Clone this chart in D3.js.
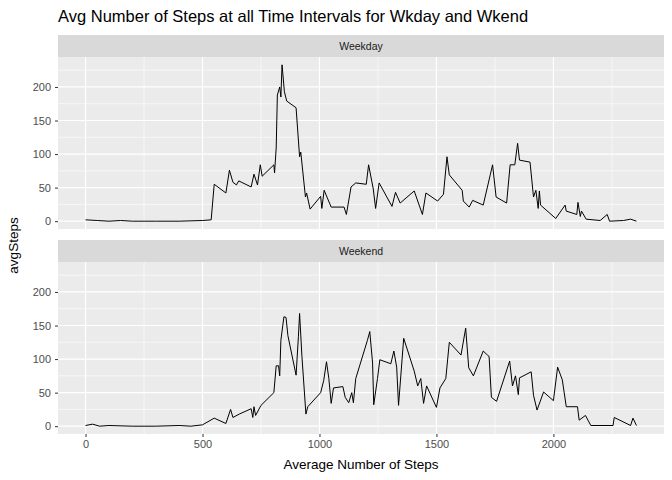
<!DOCTYPE html>
<html><head><meta charset="utf-8">
<script src="https://cdn.jsdelivr.net/npm/d3@7"></script>
<style>body{margin:0;background:#fff}text{font-family:"Liberation Sans",Arial,sans-serif}</style>
</head><body><svg id="chart" width="672" height="480"></svg>
<script>
// [interval, avgSteps]
const weekday = [[0,2],[50,1],[100,0],[150,1],[200,0],[300,0],[400,0],[500,1],[537,2],[550,55],[600,42],[615,76],[630,58],[645,54],[655,60],[708,51],[720,70],[735,54],[747,84],[755,67],[805,84],[808,72],[815,109],[820,188],[830,200],[835,185],[840,233],[850,193],[860,179],[900,169],[915,96],[920,103],[940,36],[945,42],[960,18],[1005,37],[1010,19],[1020,46],[1050,21],[1105,21],[1115,10],[1135,51],[1155,57],[1200,55],[1210,84],[1230,48],[1240,19],[1255,57],[1310,22],[1325,43],[1345,27],[1405,45],[1440,10],[1455,42],[1505,30],[1530,40],[1545,96],[1555,69],[1610,46],[1615,30],[1640,21],[1655,31],[1700,24],[1730,69],[1740,84],[1755,36],[1800,27],[1815,84],[1835,84],[1847,116],[1855,91],[1900,88],[1915,36],[1925,46],[1935,19],[1940,45],[1945,24],[2010,4],[2050,24],[2055,15],[2100,10],[2105,28],[2115,7],[2120,15],[2140,3],[2200,1],[2230,10],[2240,0],[2300,1],[2330,3],[2355,0]];
const weekend = [[0,1],[30,3],[60,0],[100,1],[200,0],[300,0],[400,1],[450,0],[500,2],[550,12],[600,4],[620,25],[630,13],[657,18],[708,26],[715,13],[720,29],[727,16],[750,31],[805,50],[815,90],[825,90],[830,75],[835,128],[848,163],[857,162],[865,135],[900,76],[910,134],[915,168],[925,104],[942,18],[950,29],[1005,50],[1018,68],[1030,96],[1040,71],[1050,34],[1060,57],[1100,59],[1110,43],[1125,35],[1138,50],[1145,35],[1155,71],[1205,128],[1215,141],[1227,94],[1232,32],[1248,71],[1258,99],[1305,93],[1318,112],[1330,88],[1338,31],[1360,131],[1405,82],[1420,60],[1433,71],[1445,34],[1458,60],[1500,28],[1515,57],[1540,71],[1555,125],[1605,106],[1625,146],[1638,87],[1658,75],[1700,112],[1718,106],[1725,104],[1735,43],[1757,37],[1813,97],[1825,60],[1838,75],[1850,47],[1855,72],[1905,81],[1915,46],[1930,24],[1958,51],[2000,38],[2018,88],[2038,69],[2055,29],[2103,29],[2110,9],[2137,16],[2160,1],[2255,1],[2260,13],[2330,1],[2340,12],[2355,1]];
const panels = [{name: "Weekday", values: weekday}, {name: "Weekend", values: weekend}];
const xTicks = [0, 500, 1000, 1500, 2000];
const yTicks = [0, 50, 100, 150, 200];

const svg = d3.select("#chart");
const left = 58, right = 664;
const panelBoxes = [{strip: 35, top: 57, bottom: 229}, {strip: 240, top: 262, bottom: 434}];

const x = d3.scaleLinear().domain([-117.75, 2472.75]).range([left, right]);
const line = d3.line().x(d => x(d[0]));

svg.append("text").attr("x", 58).attr("y", 22).attr("font-size", 16.5).attr("fill", "#000")
  .text("Avg Number of Steps at all Time Intervals for Wkday and Wkend");

panels.forEach((p, i) => {
  const box = panelBoxes[i];
  const y = d3.scaleLinear().domain([-11.65, 244.65]).range([box.bottom, box.top]);
  const g = svg.append("g");
  g.append("rect").attr("x", left).attr("y", box.strip).attr("width", right - left)
    .attr("height", box.top - box.strip).attr("fill", "#D9D9D9");
  g.append("text").attr("x", (left + right) / 2).attr("y", (box.strip + box.top) / 2 + 4)
    .attr("text-anchor", "middle").attr("font-size", 10.5).attr("fill", "#1A1A1A").text(p.name);
  g.append("rect").attr("x", left).attr("y", box.top).attr("width", right - left)
    .attr("height", box.bottom - box.top).attr("fill", "#EBEBEB");
  // minor grid
  g.selectAll(".mx").data([250, 750, 1250, 1750, 2250]).enter().append("line")
    .attr("x1", d => x(d)).attr("x2", d => x(d)).attr("y1", box.top).attr("y2", box.bottom)
    .attr("stroke", "#fff").attr("stroke-width", 0.6);
  g.selectAll(".my").data([25, 75, 125, 175, 225]).enter().append("line")
    .attr("y1", d => y(d)).attr("y2", d => y(d)).attr("x1", left).attr("x2", right)
    .attr("stroke", "#fff").attr("stroke-width", 0.6);
  // major grid
  g.selectAll(".gx").data(xTicks).enter().append("line")
    .attr("x1", d => x(d)).attr("x2", d => x(d)).attr("y1", box.top).attr("y2", box.bottom)
    .attr("stroke", "#fff").attr("stroke-width", 1.2);
  g.selectAll(".gy").data(yTicks).enter().append("line")
    .attr("y1", d => y(d)).attr("y2", d => y(d)).attr("x1", left).attr("x2", right)
    .attr("stroke", "#fff").attr("stroke-width", 1.2);

  const ay = g.append("g").attr("transform", `translate(${left},0)`)
    .call(d3.axisLeft(y).tickValues(yTicks).tickFormat(d3.format("d")).tickSize(3).tickPadding(4));
  ay.select(".domain").remove();
  ay.selectAll("line").attr("stroke", "#333");
  ay.selectAll("text").attr("font-size", 11).attr("fill", "#4D4D4D").attr("font-family", "Liberation Sans, Arial");

  if (i === 1) {
    const ax = g.append("g").attr("transform", `translate(0,${box.bottom})`)
      .call(d3.axisBottom(x).tickValues(xTicks).tickFormat(d3.format("d")).tickSize(3).tickPadding(3));
    ax.select(".domain").remove();
    ax.selectAll("line").attr("stroke", "#333");
    ax.selectAll("text").attr("font-size", 11).attr("fill", "#4D4D4D").attr("font-family", "Liberation Sans, Arial");
  }

  g.append("path").datum(p.values).attr("d", line.y(d => y(d[1])))
    .attr("fill", "none").attr("stroke", "#000").attr("stroke-width", 1);
});

svg.append("text").attr("x", (left + right) / 2).attr("y", 469).attr("text-anchor", "middle")
  .attr("font-size", 13.5).attr("fill", "#000").text("Average Number of Steps");
svg.append("text").attr("transform", `translate(18,${(57 + 434) / 2}) rotate(-90)`)
  .attr("text-anchor", "middle").attr("font-size", 13.5).attr("fill", "#000").text("avgSteps");
</script></body></html>
